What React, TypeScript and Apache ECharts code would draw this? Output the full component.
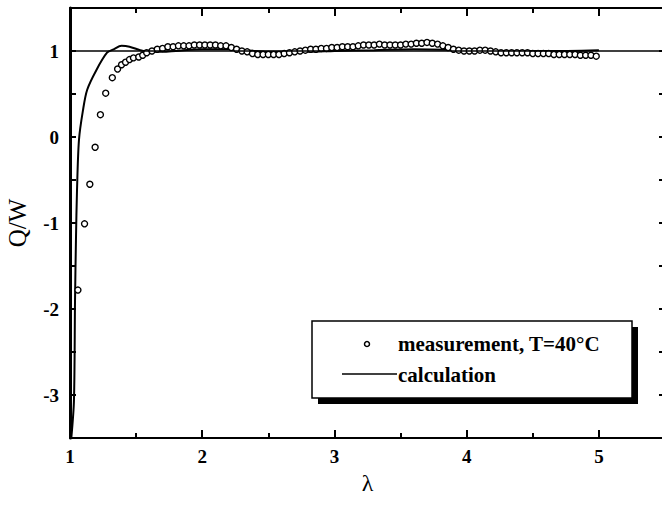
import React, { useEffect, useRef } from "react";
import * as echarts from "echarts";

const measX = [1.06, 1.11, 1.15, 1.19, 1.23, 1.27, 1.32, 1.36, 1.39, 1.42, 1.45, 1.48, 1.52, 1.55, 1.58, 1.62, 1.66, 1.70, 1.74, 1.78, 1.82, 1.86, 1.90, 1.94, 1.98, 2.02, 2.06, 2.10, 2.14, 2.18, 2.22, 2.26, 2.30, 2.34, 2.38, 2.42, 2.46, 2.50, 2.54, 2.58, 2.62, 2.66, 2.70, 2.74, 2.78, 2.82, 2.86, 2.90, 2.94, 2.98, 3.02, 3.06, 3.10, 3.14, 3.18, 3.22, 3.26, 3.30, 3.34, 3.38, 3.42, 3.46, 3.50, 3.54, 3.58, 3.62, 3.66, 3.70, 3.74, 3.78, 3.82, 3.86, 3.90, 3.94, 3.98, 4.02, 4.06, 4.10, 4.14, 4.18, 4.22, 4.26, 4.30, 4.34, 4.38, 4.42, 4.46, 4.50, 4.54, 4.58, 4.62, 4.66, 4.70, 4.74, 4.78, 4.82, 4.86, 4.90, 4.94, 4.98];
const measY = [-1.78, -1.01, -0.55, -0.12, 0.26, 0.51, 0.69, 0.79, 0.84, 0.87, 0.90, 0.92, 0.93, 0.95, 0.98, 1.00, 1.02, 1.03, 1.05, 1.05, 1.06, 1.06, 1.06, 1.07, 1.07, 1.07, 1.07, 1.07, 1.06, 1.06, 1.04, 1.02, 1.00, 0.99, 0.97, 0.96, 0.96, 0.96, 0.96, 0.96, 0.97, 0.98, 0.99, 1.00, 1.01, 1.02, 1.02, 1.03, 1.03, 1.04, 1.04, 1.05, 1.05, 1.05, 1.06, 1.07, 1.07, 1.07, 1.08, 1.07, 1.07, 1.07, 1.07, 1.08, 1.08, 1.09, 1.09, 1.10, 1.09, 1.08, 1.06, 1.04, 1.02, 1.01, 1.00, 1.00, 1.00, 1.01, 1.01, 1.00, 0.99, 0.98, 0.98, 0.98, 0.98, 0.98, 0.98, 0.97, 0.97, 0.97, 0.97, 0.96, 0.96, 0.96, 0.96, 0.96, 0.95, 0.95, 0.95, 0.94];

const calcX = [1.01, 1.03, 1.038, 1.045, 1.053, 1.068, 1.098, 1.13, 1.2, 1.28, 1.33, 1.39, 1.45, 1.53, 1.6, 1.7, 1.8, 2.0, 2.2, 2.5, 2.8, 3.0, 3.3, 3.6, 4.0, 4.3, 4.6, 5.0];
const calcY = [-3.5, -3.06, -1.9, -1.2, -0.62, -0.03, 0.31, 0.55, 0.78, 0.98, 1.02, 1.06, 1.05, 1.01, 0.99, 0.99, 1.0, 1.02, 1.02, 0.99, 0.99, 1.0, 1.01, 1.02, 1.01, 1.0, 1.0, 1.01];

const xTicks = [1, 2, 3, 4, 5];
const yTicks = [-3, -2, -1, 0, 1];
const legendNames = ["measurement, T=40°C", "calculation"];

const FONT = "'Liberation Serif', 'Times New Roman', serif";

export default function App() {
  const ref = useRef<HTMLDivElement>(null);
  useEffect(() => {
    if (!ref.current) return;
    const chart = echarts.init(ref.current, null, { renderer: "svg" });
    const axisLine = { show: true, onZero: false, lineStyle: { color: "#000", width: 2 } };
    chart.setOption({
      animation: false,
      backgroundColor: "#fff",
      grid: { left: 70, top: 8, width: 595, height: 430, containLabel: false, outerBoundsMode: "none" },
      xAxis: [
        {
          type: "value", min: 1, max: 5.5, interval: 1, position: "bottom",
          axisLine,
          axisTick: { show: true, inside: true, length: 8, lineStyle: { color: "#000", width: 2 } },
          minorTick: { show: true, splitNumber: 2, length: 5, lineStyle: { color: "#000", width: 2 } },
          splitLine: { show: false },
          axisLabel: {
            margin: 9, color: "#000", fontFamily: FONT, fontWeight: "bold", fontSize: 19,
            showMaxLabel: false,
            formatter: (v: number) => (xTicks.includes(v) ? String(v) : ""),
          },
          name: "λ", nameLocation: "middle", nameGap: 33,
          nameTextStyle: { fontFamily: FONT, fontSize: 24, color: "#000" },
        },
        {
          type: "value", min: 1, max: 5.5, interval: 1, position: "top",
          axisLine,
          axisTick: { show: true, inside: true, length: 8, lineStyle: { color: "#000", width: 2 } },
          minorTick: { show: true, splitNumber: 2, length: 5, lineStyle: { color: "#000", width: 2 } },
          splitLine: { show: false },
          axisLabel: { show: false },
        },
      ],
      yAxis: [
        {
          type: "value", min: -3.5, max: 1.5, interval: 0.5, position: "left",
          axisLine: { show: true, onZero: false, lineStyle: { color: "#000", width: 3 } },
          axisTick: { show: true, inside: true, length: 6, lineStyle: { color: "#000", width: 2 } },
          splitLine: { show: false },
          axisLabel: {
            margin: 11, color: "#000", fontFamily: FONT, fontWeight: "bold", fontSize: 19,
            formatter: (v: number) => (yTicks.includes(v) ? String(v) : ""),
          },
          name: "Q/W", nameLocation: "middle", nameGap: 40, nameRotate: 90,
          nameTextStyle: { fontFamily: FONT, fontSize: 25, color: "#000" },
        },
        {
          type: "value", min: -3.5, max: 1.5, interval: 0.5, position: "right",
          axisLine,
          axisTick: { show: true, inside: true, length: 6, lineStyle: { color: "#000", width: 2 } },
          splitLine: { show: false },
          axisLabel: { show: false },
        },
      ],
      series: [
        {
          name: legendNames[1],
          type: "line",
          xAxisIndex: 0, yAxisIndex: 0,
          data: calcX.map((x, i) => [x, calcY[i]]),
          showSymbol: false,
          smooth: 0.3,
          lineStyle: { color: "#000", width: 2 },
          z: 2,
          markLine: {
            silent: true, symbol: "none", label: { show: false },
            lineStyle: { color: "#000", width: 1.5, type: "solid" },
            data: [{ yAxis: 1 }],
          },
        },
        {
          name: legendNames[0],
          type: "scatter",
          xAxisIndex: 0, yAxisIndex: 0,
          data: measX.map((x, i) => [x, measY[i]]),
          symbol: "circle",
          symbolSize: 6,
          itemStyle: { color: "#fff", borderColor: "#000", borderWidth: 1.4, opacity: 1 },
          z: 3,
        },
      ],
      graphic: [
        { type: "rect", shape: { x: 318, y: 327, width: 320, height: 77 }, style: { fill: "#000" }, z: 10 },
        { type: "rect", shape: { x: 312, y: 321, width: 320, height: 77 }, style: { fill: "#fff", stroke: "#000", lineWidth: 1.5 }, z: 11 },
        { type: "circle", shape: { cx: 367, cy: 344, r: 2.5 }, style: { fill: "#fff", stroke: "#000", lineWidth: 1.5 }, z: 12 },
        { type: "line", shape: { x1: 342, y1: 374, x2: 397, y2: 374 }, style: { stroke: "#000", lineWidth: 1.5 }, z: 12 },
        {
          type: "text", x: 398, y: 344, z: 12,
          style: { text: legendNames[0], font: `bold 21px ${FONT}`, fill: "#000", textVerticalAlign: "middle", textAlign: "left" },
        },
        {
          type: "text", x: 398, y: 375, z: 12,
          style: { text: legendNames[1], font: `bold 21px ${FONT}`, fill: "#000", textVerticalAlign: "middle", textAlign: "left" },
        },
      ],
    });
    return () => chart.dispose();
  }, []);
  return <div ref={ref} style={{ position: "fixed", left: 0, top: 0, width: 662, height: 506 }} />;
}
